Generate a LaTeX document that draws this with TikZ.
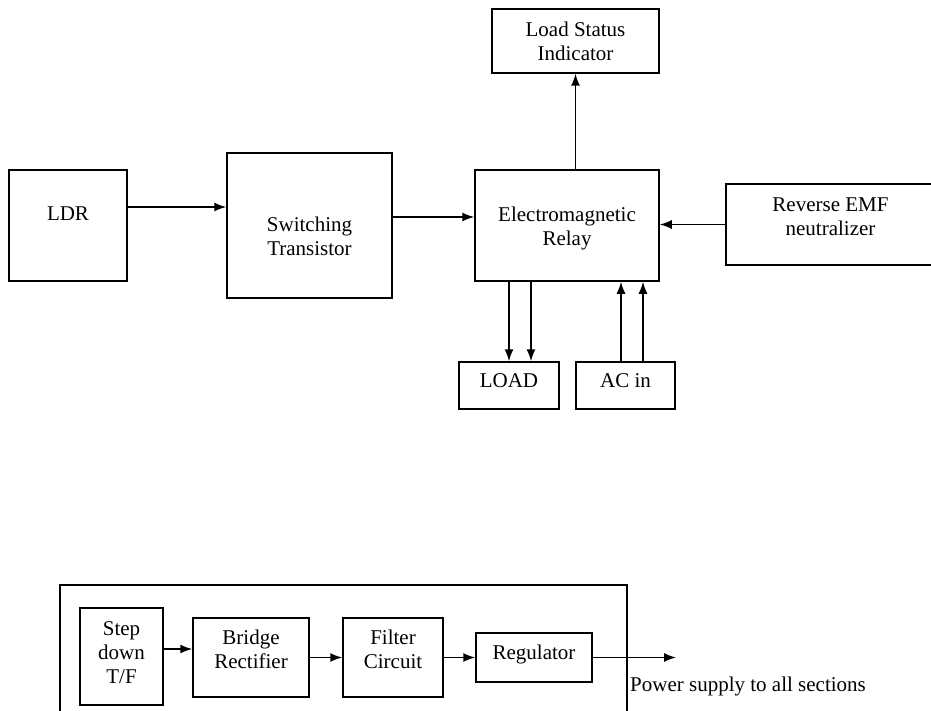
\documentclass[tikz,border=0pt]{standalone}
\usepackage{fontspec}
\setmainfont{Liberation Serif}
\usepackage{tikz}
\usetikzlibrary{arrows.meta}

\begin{document}
\begin{tikzpicture}[x=1pt,y=-1pt,font=\fontsize{21}{24}\selectfont]
  \tikzset{block/.style={draw,rectangle,line width=1.5pt,inner sep=0pt}}
  \tikzset{flow/.style={-{Latex[length=12pt,width=9pt]},line width=1.5pt}}
  \tikzset{txt/.style={align=center}}
  \useasboundingbox (0,0) rectangle (931,711);
  % light sensing part
  \node[block,minimum width=118pt,minimum height=111pt,label={[name=ldrT,txt,yshift=12pt]center:LDR}] (ldr) at (68,225.5) {};
  \node[block,minimum width=165pt,minimum height=145pt,label={[name=swT,txt,yshift=-10.5pt]center:Switching\\Transistor}] (sw) at (309.5,225.5) {};
  \node[block,minimum width=184pt,minimum height=111pt,label={[name=relayT,txt,yshift=-2.5pt]center:Electromagnetic\\Relay}] (relay) at (567,225.5) {};
  \node[block,minimum width=167pt,minimum height=64pt,label={[name=lsiT,txt]center:Load Status\\Indicator}] (lsi) at (575.5,41) {};
  \node[block,minimum width=209pt,minimum height=81pt,label={[name=revT,txt,yshift=7.5pt]center:Reverse EMF\\neutralizer}] (rev) at (830.5,224.5) {};
  \node[block,minimum width=100pt,minimum height=47pt,label={[name=loadT,yshift=4.5pt]center:LOAD}] (load) at (509,385.5) {};
  \node[block,minimum width=99pt,minimum height=47pt,label={[name=acT,yshift=4.5pt]center:AC in}] (acin) at (625.5,385.5) {};
  \draw[flow] ([yshift=18.5pt]ldr.east) -- ([yshift=18.5pt]ldr.east -| sw.west);
  \draw[flow] ([yshift=8.5pt]sw.east) -- ([yshift=8.5pt]sw.east -| relay.west);
  \draw[flow] (relay.north -| lsi.south) -- (lsi.south);
  \draw[flow] (rev.west) -- (rev.west -| relay.east);
  \draw[flow] (relay.south -| load.north) -- (load.north);
  \draw[flow] ([xshift=22pt]relay.south -| load.north) -- ([xshift=22pt]load.north);
  \draw[flow] ([xshift=-4.5pt]acin.north) -- ([xshift=-4.5pt]acin.north |- relay.south);
  \draw[flow] ([xshift=17.5pt]acin.north) -- ([xshift=17.5pt]acin.north |- relay.south);
  % power supply part
  \node[block,minimum width=567pt,minimum height=140pt] (psu) at (343.5,655) {};
  \node[block,minimum width=83pt,minimum height=97pt,label={[name=stepT,txt,yshift=3.5pt]center:Step\\down\\T/F}] (step) at (121.5,656.5) {};
  \node[block,minimum width=116pt,minimum height=79pt,label={[name=bridgeT,txt,yshift=8.5pt]center:Bridge\\Rectifier}] (bridge) at (251,657.5) {};
  \node[block,minimum width=100pt,minimum height=79pt,label={[name=filterT,txt,yshift=8.5pt]center:Filter\\Circuit}] (filter) at (393,657.5) {};
  \node[block,minimum width=116pt,minimum height=49pt,label={[name=regT,yshift=3.5pt]center:Regulator}] (reg) at (534,657.5) {};
  \coordinate (out) at (676,657.5);
  \node[anchor=west,inner sep=0pt] (pwr) at (630,686) {Power supply to all sections};
  \draw[flow] ([yshift=7.5pt]step.east) -- ([yshift=7.5pt]step.east -| bridge.west);
  \draw[flow] (bridge) -- (filter);
  \draw[flow] (filter) -- (reg);
  \draw[flow] (reg.east) -- (out);
\end{tikzpicture}
\end{document}
